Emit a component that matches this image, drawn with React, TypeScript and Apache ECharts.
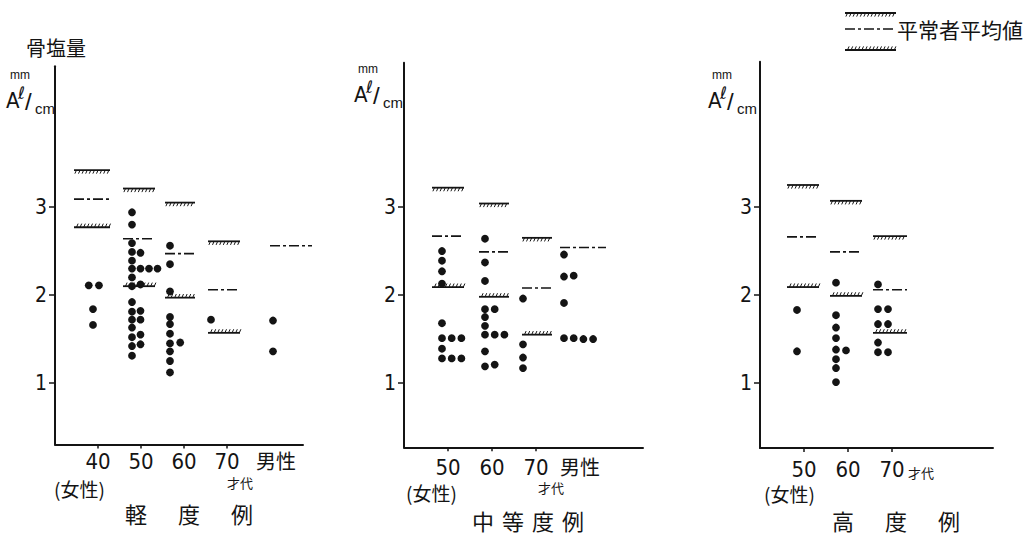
import { useEffect, useRef } from "react";
import * as echarts from "echarts";

const INK = "#141414";
const CJK = "'Noto Sans CJK JP', 'Noto Sans CJK SC', sans-serif";
const NUM = "'Liberation Sans Narrow', 'DejaVu Sans Condensed', 'Liberation Sans', sans-serif";
const LATIN = "'Liberation Sans', 'DejaVu Sans', sans-serif";

// ---------- 軽度例 ----------
const mildCategories = ["40", "50", "60", "70", "男性"];
const mildUpper = [3.42, 3.21, 3.05, 2.61, null];
const mildMean = [3.09, 2.64, 2.47, 2.06, 2.56];
const mildLower = [2.77, 2.1, 1.97, 1.57, null];
// each point: [column in the dot strip, 骨塩量]
const mild40 = [[-0.5, 2.11], [0.7, 2.11], [0, 1.84], [0, 1.66]];
const mild50 = [
  [0, 2.94], [0, 2.8], [0, 2.59], [0, 2.49], [0, 2.39], [0, 2.3], [0, 2.2], [0, 2.1],
  [0, 1.92], [0, 1.81], [0, 1.72], [0, 1.63], [0, 1.52], [0, 1.42], [0, 1.31],
  [1, 2.48], [1, 2.3], [1, 2.12], [1, 1.82], [1, 1.72], [1, 1.55], [1, 1.44],
  [2, 2.3], [3, 2.3],
];
const mild60 = [
  [0, 2.56], [0, 2.35], [0, 2.04], [0, 1.75], [0, 1.67], [0, 1.56], [0, 1.45], [0, 1.36],
  [0, 1.25], [0, 1.12], [1.2, 1.46],
];
const mild70 = [[0, 1.72]];
const mildMale = [[0, 1.71], [0, 1.36]];

// ---------- 中等度例 ----------
const moderateCategories = ["50", "60", "70", "男性"];
const moderateUpper = [3.22, 3.04, 2.65, null];
const moderateMean = [2.67, 2.49, 2.08, 2.54];
const moderateLower = [2.09, 1.98, 1.55, null];
const moderate50 = [
  [0, 2.5], [0, 2.39], [0, 2.27], [0, 2.13], [0, 1.68], [0, 1.51], [0, 1.39], [0, 1.28],
  [1, 1.51], [1, 1.28], [2, 1.51], [2, 1.28],
];
const moderate60 = [
  [0, 2.64], [0, 2.37], [0, 2.16], [0, 1.84], [0, 1.75], [0, 1.65], [0, 1.55], [0, 1.36], [0, 1.19],
  [1, 1.84], [1, 1.55], [1, 1.21], [2, 1.55],
];
const moderate70 = [[0, 1.96], [0, 1.44], [0, 1.29], [0, 1.17]];
const moderateMale = [[0, 2.46], [0, 2.21], [0, 1.91], [0, 1.51], [1, 2.22], [1, 1.51], [2, 1.5], [3, 1.5]];

// ---------- 高度例 ----------
const severeCategories = ["50", "60", "70"];
const severeUpper = [3.25, 3.07, 2.67];
const severeMean = [2.66, 2.49, 2.06];
const severeLower = [2.09, 1.99, 1.57];
const severe50 = [[0, 1.83], [0, 1.36]];
const severe60 = [
  [0, 2.14], [0, 1.77], [0, 1.63], [0, 1.51], [0, 1.38], [0, 1.27], [0, 1.17], [0, 1.01], [1, 1.37],
];
const severe70 = [[0, 2.12], [0, 1.84], [0, 1.67], [0, 1.46], [0, 1.35], [1, 1.84], [1, 1.67], [1, 1.35]];

const yTickValues = [1, 2, 3];

type Panel = {
  categories: string[];
  upper: (number | null)[];
  mean: (number | null)[];
  lower: (number | null)[];
  points: number[][][];
  tickCount: number;
  grid: { left: number; top: number; width: number; height: number };
  yRange: [number, number];
  xMax: number;
  dotBase: number[];
  dotStep: number;
  lineShift: number[];
  lineHalf: number[];
  labelMargin: number;
  malePad: number;
};

const panels: Panel[] = [
  {
    categories: mildCategories, upper: mildUpper, mean: mildMean, lower: mildLower,
    points: [mild40, mild50, mild60, mild70, mildMale],
    tickCount: 4,
    grid: { left: 55, top: 66.2, width: 248, height: 378.4 },
    yRange: [0.3, 4.6], xMax: 248 / 43,
    dotBase: [-5, -9, -14, -16, 3], dotStep: 8.5,
    lineShift: [-6, -2, -4, -3, 21], lineHalf: [18, 16, 15, 16, 21],
    labelMargin: 6, malePad: 12,
  },
  {
    categories: moderateCategories, upper: moderateUpper, mean: moderateMean, lower: moderateLower,
    points: [moderate50, moderate60, moderate70, moderateMale],
    tickCount: 3,
    grid: { left: 404, top: 62.7, width: 239, height: 384.6 },
    yRange: [0.27, 4.64], xMax: 239 / 44,
    dotBase: [-6, -7, -13, -16], dotStep: 9.7,
    lineShift: [0, 2, 1, 3], lineHalf: [16, 15, 15, 23],
    labelMargin: 9, malePad: 0,
  },
  {
    categories: severeCategories, upper: severeUpper, mean: severeMean, lower: severeLower,
    points: [severe50, severe60, severe70],
    tickCount: 3,
    grid: { left: 760, top: 61.8, width: 233, height: 386.3 },
    yRange: [0.26, 4.65], xMax: 233 / 44,
    dotBase: [-7, -12, -14], dotStep: 10,
    lineShift: [-1, -2, -2], lineHalf: [16, 16, 17],
    labelMargin: 10, malePad: 0,
  },
];

// kind 0: upper hatched limit, 1: dash-dot mean, 2: lower hatched limit
function refLineShape(x0: number, x1: number, y: number, kind: number): any {
  if (kind === 1) {
    return {
      type: "line",
      shape: { x1: x0, y1: y, x2: x1, y2: y },
      style: { stroke: INK, lineWidth: 1.6, lineDash: [10, 3, 3, 3] },
    };
  }
  const children: any[] = [
    { type: "line", shape: { x1: x0, y1: y, x2: x1, y2: y }, style: { stroke: INK, lineWidth: 1.8 } },
  ];
  for (let x = x0 + 2.5; x <= x1; x += 3.6) {
    children.push({
      type: "line",
      shape: kind === 0
        ? { x1: x, y1: y, x2: x - 1.6, y2: y + 3.6 }
        : { x1: x, y1: y, x2: x + 1.6, y2: y - 3.6 },
      style: { stroke: INK, lineWidth: 1 },
    });
  }
  return { type: "group", children };
}

function text(x: number, y: number, s: string, size: number, family: string, extra: any = {}) {
  return {
    type: "text",
    x,
    y,
    style: { text: s, fontSize: size, fontFamily: family, fill: INK, verticalAlign: "middle", align: "left", ...extra },
  };
}

function spaced(chars: string, x0: number, pitch: number, y: number, size: number) {
  return chars.split("").map((c, k) => text(x0 + k * pitch, y, c, size, CJK));
}

function unitLabel(dx: number, dy: number) {
  return [
    text(10 + dx, 75 + dy, "mm", 12, LATIN),
    text(6 + dx, 100 + dy, "A", 22, NUM),
    text(18 + dx, 93 + dy, "ℓ", 17, "'DejaVu Sans', sans-serif", { fontStyle: "italic" }),
    text(25 + dx, 101 + dy, "/", 24, LATIN),
    text(35 + dx, 108 + dy, "cm", 15, LATIN),
  ];
}

function buildOption() {
  const grids: any[] = [];
  const xAxes: any[] = [];
  const yAxes: any[] = [];
  const series: any[] = [];

  panels.forEach((p, k) => {
    grids.push({ ...p.grid, containLabel: false, outerBoundsMode: "none" });
    const ticks = p.categories.slice(0, p.tickCount).map((_, i) => i + 1);
    const labelPos = p.categories.map((_, i) => i + 1);
    xAxes.push({
      type: "value",
      gridIndex: k,
      min: 0,
      max: p.xMax,
      axisLine: { show: true, onZero: false, lineStyle: { color: INK, width: 2 } },
      axisTick: { show: true, customValues: ticks, length: 4, lineStyle: { color: INK, width: 1.5 } },
      axisLabel: {
        customValues: labelPos,
        margin: p.labelMargin,
        color: INK,
        fontFamily: NUM,
        fontSize: 22,
        formatter: (v: number) => {
          const c = p.categories[Math.round(v) - 1];
          return c === "男性" ? `{m|${c}}` : c;
        },
        rich: {
          m: { fontFamily: CJK, fontSize: 20, color: INK, padding: [0, 0, 0, p.malePad] },
        },
      },
      splitLine: { show: false },
    });
    yAxes.push({
      type: "value",
      gridIndex: k,
      min: p.yRange[0],
      max: p.yRange[1],
      axisLine: { show: true, onZero: false, lineStyle: { color: INK, width: 2 } },
      axisTick: { show: true, customValues: yTickValues, length: 6, lineStyle: { color: INK, width: 1.5 } },
      axisLabel: { customValues: yTickValues, margin: 8, color: INK, fontFamily: NUM, fontSize: 21 },
      splitLine: { show: false },
    });

    const lineData: number[][] = [];
    [p.upper, p.mean, p.lower].forEach((vals, kind) => {
      vals.forEach((v, i) => {
        if (v != null) lineData.push([i + 1, v, kind]);
      });
    });
    series.push({
      type: "custom",
      xAxisIndex: k,
      yAxisIndex: k,
      data: lineData,
      renderItem: (_params: any, api: any) => {
        const i = api.value(0);
        const pt = api.coord([i, api.value(1)]);
        const mid = pt[0] + p.lineShift[i - 1];
        const half = p.lineHalf[i - 1];
        return refLineShape(mid - half, mid + half, pt[1], api.value(2));
      },
    });

    const dotData: number[][] = [];
    p.points.forEach((arr, gi) => arr.forEach(([slot, v]) => dotData.push([gi + 1, v, slot])));
    series.push({
      type: "custom",
      xAxisIndex: k,
      yAxisIndex: k,
      data: dotData,
      renderItem: (_params: any, api: any) => {
        const i = api.value(0);
        const pt = api.coord([i, api.value(1)]);
        return {
          type: "circle",
          shape: { cx: pt[0] + p.dotBase[i - 1] + api.value(2) * p.dotStep, cy: pt[1], r: 3.9 },
          style: { fill: INK },
        };
      },
    });
  });

  const graphic: any[] = [
    text(26, 47, "骨塩量", 20, CJK),
    ...unitLabel(0, 0),
    ...unitLabel(348, -6),
    ...unitLabel(702, 0),
    // legend
    refLineShape(845, 896, 13, 0),
    refLineShape(845, 894, 29, 1),
    refLineShape(845, 896, 50, 2),
    text(897, 29, "平常者平均値", 21, CJK),
    // 軽度例
    text(54, 488, "(女性)", 19, CJK),
    text(227, 482, "才代", 13, CJK),
    ...spaced("軽度例", 125, 53, 513, 22),
    // 中等度例
    text(406, 492, "(女性)", 19, CJK),
    text(538, 487, "才代", 13, CJK),
    ...spaced("中等度例", 472, 30, 520, 22),
    // 高度例
    text(764, 493, "(女性)", 19, CJK),
    text(908, 472, "才代", 13, CJK),
    ...spaced("高度例", 832, 53, 520, 22),
  ];

  return {
    animation: false,
    backgroundColor: "#ffffff",
    grid: grids,
    xAxis: xAxes,
    yAxis: yAxes,
    series,
    graphic,
  };
}

export default function App() {
  const ref = useRef<HTMLDivElement>(null);
  useEffect(() => {
    if (!ref.current) return;
    const chart = echarts.init(ref.current, undefined, { renderer: "svg" });
    chart.setOption(buildOption() as any);
    return () => chart.dispose();
  }, []);
  return (
    <div
      ref={ref}
      style={{ position: "fixed", left: 0, top: 0, width: 1033, height: 536, background: "#fff" }}
    />
  );
}
